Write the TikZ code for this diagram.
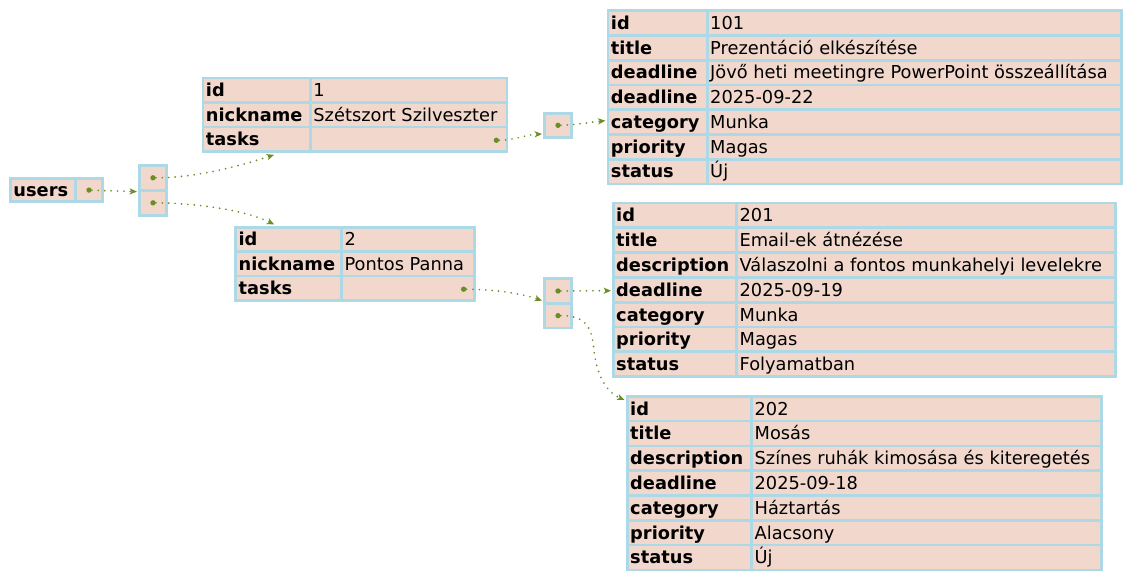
\documentclass[tikz,border=0pt]{standalone}
\usepackage{fontspec}
\setmainfont{DejaVu Sans}
\usetikzlibrary{arrows.meta}
\definecolor{peach}{HTML}{F2D8CC}
\definecolor{lblue}{HTML}{ADD8E6}
\definecolor{odrab}{HTML}{6B8E23}
\tikzset{
  cell/.style={draw=lblue, fill=peach, line width=2pt, inner sep=0pt, rectangle},
  txt/.style={inner sep=0pt, text height=12.6pt, text depth=3pt, font=\fontsize{13.35pt}{16pt}\selectfont},
  tdot/.style={circle, fill=odrab, inner sep=0pt, minimum size=4pt},
  conn/.style={draw=odrab, line width=1.4pt, line cap=round, dash pattern=on 0pt off 4.8pt,
    -{Stealth[length=5.5pt,width=4.6pt,inset=1.5pt]}}
}
\newcommand\mkbox[5]{%
  \pgfmathsetmacro\mycw{(#3-#2)*0.75}%
  \pgfmathsetmacro\mych{(#5-#4)*0.75}%
  \node[cell, minimum width=\mycw pt, minimum height=\mych pt] (#1) at ({(#2+#3)/2},{(#4+#5)/2}) {};}
\newcommand\mkcell[6]{%
  \mkbox{#1}{#2}{#3}{#4}{#5}%
  \node[txt, anchor=west] (#1-t) at ([xshift=3pt]#1.west) {#6};}
\newcommand\mktable[7]{%
  \foreach \kk/\vv [count=\ii] in {#7} {%
    \pgfmathsetmacro\mya{#5+(\ii-1)*#6}%
    \pgfmathsetmacro\myb{#5+\ii*#6}%
    \mkcell{#1-k\ii}{#2}{#3}{\mya}{\myb}{\bfseries\kk}%
    \mkcell{#1-v\ii}{#3}{#4}{\mya}{\myb}{\vv}%
  }}
\begin{document}
\begin{tikzpicture}[x=0.75pt,y=-0.75pt]
\fill[white] (0,0) rectangle (1132,581);
\useasboundingbox (0,0) rectangle (1132,581);

% users
\mkcell{users-k}{10.5}{75.5}{178.4}{201.8}{\bfseries users}
\mkbox{users-v}{75.5}{102.5}{178.4}{201.8}

% users array
\mkbox{l1a}{139.3}{166.7}{165.3}{190.3}
\mkbox{l1b}{139.3}{166.7}{190.3}{215.4}

% user records
\mktable{u1}{203}{310.5}{507}{78}{24.43}{id/1, nickname/Szétszort Szilveszter, tasks/}
\mktable{u2}{235.7}{341.7}{474.3}{227.3}{24.37}{id/2, nickname/Pontos Panna, tasks/}

% task arrays
\mkbox{tl1}{544.7}{571.3}{113.3}{137.3}
\mkbox{tl2a}{544.7}{571.3}{278.7}{303.3}
\mkbox{tl2b}{544.7}{571.3}{303.3}{328}

% task records
\mktable{t101}{608}{707.3}{1121.3}{10.7}{24.75}{id/101, title/Prezentáció elkészítése, deadline/Jövő heti meetingre PowerPoint összeállítása, deadline/2025-09-22, category/Munka, priority/Magas, status/Új}
\mktable{t201}{613.3}{736.7}{1115.3}{203}{24.8}{id/201, title/Email-ek átnézése, description/Válaszolni a fontos munkahelyi levelekre, deadline/2025-09-19, category/Munka, priority/Magas, status/Folyamatban}
\mktable{t202}{627.3}{751.7}{1101.3}{396.3}{24.8}{id/202, title/Mosás, description/Színes ruhák kimosása és kiteregetés, deadline/2025-09-18, category/Háztartás, priority/Alacsony, status/Új}

% tail dots
\node[tdot] (d-users) at (users-v) {};
\node[tdot] (d-l1a) at (l1a) {};
\node[tdot] (d-l1b) at (l1b) {};
\node[tdot] (d-u1) at ([shift={(-12,1.2)}]u1-v3.east) {};
\node[tdot] (d-u2) at ([shift={(-12,1)}]u2-v3.east) {};
\node[tdot] (d-tl1) at (tl1) {};
\node[tdot] (d-tl2a) at (tl2a) {};
\node[tdot] (d-tl2b) at (tl2b) {};

% connectors
\draw[conn] (d-users) -- ([shift={(-1,0)}]l1a.south west);
\draw[conn] (d-l1a) .. controls (195,178) and (240,166) .. ([shift={(17.3,2.2)}]u1-k3.south);
\draw[conn] (d-l1b) .. controls (195,203) and (245,210) .. ([shift={(-14.5,-1.5)}]u2-k1.north);
\draw[conn] (d-u1) .. controls (512,140.5) and (528,134.5) .. ([shift={(-1.4,-4.6)}]tl1.south west);
\draw[conn] (d-tl1) .. controls (578,124.8) and (592,122) .. ([shift={(-1.3,-1.4)}]t101-k5.west);
\draw[conn] (d-u2) .. controls (492,289.3) and (520,293) .. ([shift={(-1.4,-4)}]tl2a.south west);
\draw[conn] (d-tl2a) -- ([shift={(-1,0.9)}]t201-k4.west);
\draw[conn] (d-tl2b) .. controls (588,315.5) and (592,330) .. (594,350)
  .. controls (597,378) and (608,393) .. ([shift={(-1.5,5)}]t202-k1.north west);
\end{tikzpicture}
\end{document}
